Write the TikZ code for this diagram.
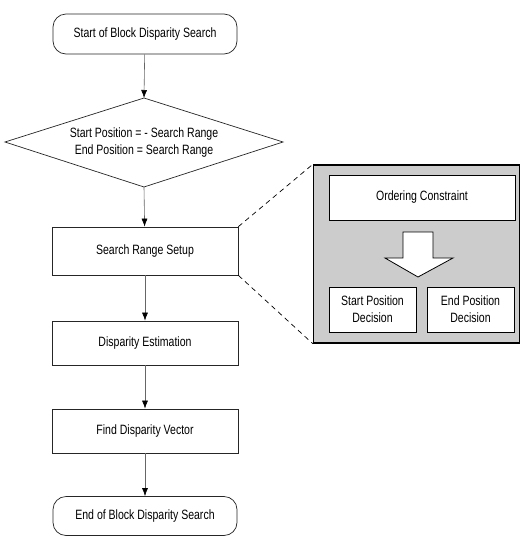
\documentclass[tikz,border=0pt]{standalone}
\usepackage{fontspec}
\setmainfont{Liberation Sans}[FakeStretch=0.78]
\usetikzlibrary{shapes.geometric,arrows.meta}
\begin{document}
\begin{tikzpicture}[x=1pt,y=-1pt,
  font=\fontsize{13.5}{17}\selectfont,
  term/.style={draw=black!85, line width=0.7pt, rounded corners=13pt, minimum width=184pt, minimum height=40pt, inner sep=0pt},
  proc/.style={draw=black!85, line width=0.7pt, minimum width=186pt, minimum height=45pt, inner sep=0pt},
  decline/.style={draw=black!85, line width=0.7pt},
  flow/.style={draw=black!60, line width=0.6pt, -{Latex[length=8pt,width=6pt,color=black]}},
  inbox/.style={draw=black, line width=0.8pt, fill=white, inner sep=0pt, align=center},
  zoomline/.style={draw=black, line width=0.7pt, dash pattern=on 5pt off 4pt}
]
\useasboundingbox (0,0) rectangle (522,536);
\fill[white] (0,0) rectangle (522,536);

\node[term] (start) at (145,34) {Start of Block Disparity Search};
\coordinate (dectop) at (144,98);
\coordinate (decbot) at (144,187);
\coordinate (decleft) at (5,142);
\coordinate (decright) at (283,142);
\draw[decline] (dectop) -- (decright) -- (decbot) -- (decleft) -- cycle;
\node[align=center, inner sep=0pt] (dec) at (144,143) {Start Position = - Search Range\\End Position = Search Range};
\node[proc, minimum height=48pt] (srs) at (145,251) {Search Range Setup};
\node[proc, minimum height=44pt] (de) at (145,343) {Disparity Estimation};
\node[proc, minimum height=44pt] (fdv) at (145,431) {Find Disparity Vector};
\node[term, minimum height=39pt] (stop) at (145,516) {End of Block Disparity Search};

\draw[flow] (start) -- (dectop);
\draw[flow] (decbot) -- (srs);
\draw[flow] (srs) -- (de);
\draw[flow] (de) -- (fdv);
\draw[flow] (fdv) -- (stop);

% detail panel
\node[draw=black, line width=1.4pt, fill=black!20, minimum width=206pt, minimum height=178pt, inner sep=0pt] (panel) at (416.5,254) {};
\node[inbox, minimum width=186pt, minimum height=45pt] (oc) at (422,197.5) {Ordering Constraint};
\node[inbox, minimum width=87pt, minimum height=45pt] (spd) at (372.5,309.5) {Start Position\\Decision};
\node[inbox, minimum width=87pt, minimum height=45pt] (epd) at (470.5,309.5) {End Position\\Decision};
\draw[draw=black, line width=0.8pt, fill=white]
  (403,232) -- (433,232) -- (433,258) -- (453,258) -- (418,277) -- (385,258) -- (403,258) -- cycle;

\draw[zoomline] (srs.north east) -- (panel.north west);
\draw[zoomline] (srs.south east) -- (panel.south west);
\end{tikzpicture}
\end{document}
